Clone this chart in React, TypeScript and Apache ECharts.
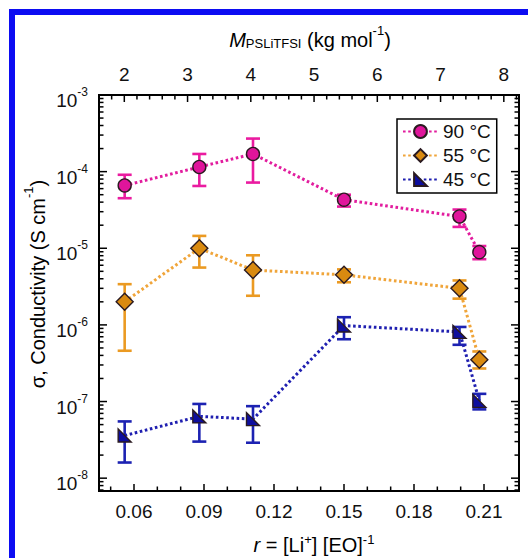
import React, { useEffect, useRef } from "react";
import * as echarts from "echarts";

// ---------- data ----------
const R_VALUES = [0.056, 0.088, 0.111, 0.15, 0.1995, 0.208];

const S90 = [6.6e-5, 1.15e-4, 1.7e-4, 4.3e-5, 2.6e-5, 8.9e-6];
const S90_HI = [9.1e-5, 1.7e-4, 2.7e-4, 5.0e-5, 3.2e-5, 1.07e-5];
const S90_LO = [4.5e-5, 6.5e-5, 7.2e-5, 3.5e-5, 1.9e-5, 7.2e-6];

const S55 = [2.0e-6, 1.0e-5, 5.2e-6, 4.5e-6, 3.0e-6, 3.5e-7];
const S55_HI = [3.4e-6, 1.45e-5, 8.1e-6, 5.3e-6, 3.8e-6, 4.5e-7];
const S55_LO = [4.6e-7, 5.6e-6, 2.4e-6, 3.6e-6, 2.2e-6, 2.7e-7];

const S45 = [3.6e-8, 6.4e-8, 5.9e-8, 9.8e-7, 8.1e-7, 1.02e-7];
const S45_HI = [5.5e-8, 9.3e-8, 8.7e-8, 1.26e-6, 9.4e-7, 1.26e-7];
const S45_LO = [1.6e-8, 3.0e-8, 2.9e-8, 6.5e-7, 5.5e-7, 7.9e-8];

const SERIES_NAMES = ["90 °C", "55 °C", "45 °C"];

// ---------- axes ----------
const X_MIN = 0.045;
const X_MAX = 0.225;
const X_MAJOR = [0.06, 0.09, 0.12, 0.15, 0.18, 0.21];
const X_MINOR = [0.05, 0.07, 0.08, 0.1, 0.11, 0.13, 0.14, 0.16, 0.17, 0.19, 0.2, 0.22];

const M_MIN = 1.6;
const M_MAX = 8.24;
const M_MAJOR = [2, 3, 4, 5, 6, 7, 8];
const M_MINOR = [
  1.8, 2.2, 2.4, 2.6, 2.8, 3.2, 3.4, 3.6, 3.8, 4.2, 4.4, 4.6, 4.8, 5.2, 5.4,
  5.6, 5.8, 6.2, 6.4, 6.6, 6.8, 7.2, 7.4, 7.6, 7.8, 8.2,
];

const Y_MIN = 6.8e-9;
const Y_MAX = 1e-3;
const Y_EXPONENTS = [-9, -8, -7, -6, -5, -4, -3];
const Y_MINOR_MULT = [2, 3, 4, 5, 6, 7, 8, 9];

const FONT = "'Liberation Sans', Arial, Helvetica, sans-serif";
const TXT = "#111";
const FRAME = "#0c0cf2";

export default function App() {
  const ref = useRef<HTMLDivElement>(null);

  useEffect(() => {
    if (!ref.current) return;
    const chart = echarts.init(ref.current, undefined, { renderer: "svg" });

    const yTicks: number[][] = [];
    Y_EXPONENTS.forEach((e) => {
      const base = Math.pow(10, e);
      if (base >= Y_MIN && base <= Y_MAX) {
        yTicks.push([X_MIN, base, 1, 0]);
        yTicks.push([X_MAX, base, 1, 1]);
      }
      Y_MINOR_MULT.forEach((m) => {
        const v = m * base;
        if (v >= Y_MIN && v < Y_MAX) {
          yTicks.push([X_MIN, v, 0, 0]);
          yTicks.push([X_MAX, v, 0, 1]);
        }
      });
    });
    const xTicks = [
      ...X_MAJOR.map((r) => [r, Y_MIN, 1]),
      ...X_MINOR.map((r) => [r, Y_MIN, 0]),
    ];
    const mTicks = [
      ...M_MAJOR.map((m) => [m, Y_MAX, 1]),
      ...M_MINOR.map((m) => [m, Y_MAX, 0]),
    ];

    const tickStyle = { stroke: "#000", lineWidth: 1.5 };

    const errSeries = (name: string, lo: number[], hi: number[], color: string) => ({
      name,
      type: "custom",
      xAxisIndex: 0,
      yAxisIndex: 0,
      z: 2,
      encode: { x: 0, y: [1, 2] },
      data: R_VALUES.map((r, i) => [r, lo[i], hi[i]]),
      renderItem: (params: any, api: any) => {
        const x = api.value(0);
        const a = api.coord([x, api.value(1)]);
        const b = api.coord([x, api.value(2)]);
        const w = 7;
        const style = { stroke: color, lineWidth: 2.6 };
        return {
          type: "group",
          children: [
            { type: "line", shape: { x1: a[0], y1: a[1], x2: b[0], y2: b[1] }, style },
            { type: "line", shape: { x1: a[0] - w, y1: a[1], x2: a[0] + w, y2: a[1] }, style },
            { type: "line", shape: { x1: b[0] - w, y1: b[1], x2: b[0] + w, y2: b[1] }, style },
          ],
        };
      },
    });

    const lineSeries = (
      name: string,
      vals: number[],
      lineColor: string,
      fill: string,
      symbol: string,
      size: number
    ) => ({
      name,
      type: "line",
      xAxisIndex: 0,
      yAxisIndex: 0,
      z: 3,
      data: R_VALUES.map((r, i) => [r, vals[i]]),
      symbol,
      symbolSize: size,
      showAllSymbol: true,
      lineStyle: { color: lineColor, width: 3, type: [2.6, 2.6] },
      itemStyle: { color: fill, borderColor: "#2a1a20", borderWidth: 1.4 },
      emphasis: { disabled: true },
    });

    const mkRich = (lh: number) => ({
      n: { fontSize: 20, fontFamily: FONT, color: TXT, lineHeight: lh, verticalAlign: "bottom" },
      i: { fontSize: 20, fontFamily: FONT, color: TXT, fontStyle: "italic", lineHeight: lh, verticalAlign: "bottom" },
      sup: { fontSize: 13, fontFamily: FONT, color: TXT, lineHeight: 13, verticalAlign: "top" },
      sub: { fontSize: 13, fontFamily: FONT, color: TXT, lineHeight: 13, verticalAlign: "bottom" },
    });

    const option: any = {
      animation: false,
      backgroundColor: "transparent",
      textStyle: { fontFamily: FONT },
      grid: {
        left: 99,
        top: 95,
        width: 420,
        height: 396,
        show: true,
        borderColor: "#000",
        borderWidth: 2,
        backgroundColor: "transparent",
      },
      legend: {
        data: SERIES_NAMES,
        orient: "vertical",
        left: 397,
        top: 119,
        padding: [3, 6, 4, 5],
        itemGap: 5,
        itemWidth: 35,
        itemHeight: 16,
        backgroundColor: "#fff",
        borderColor: "#000",
        borderWidth: 1.5,
        borderRadius: 0,
        selectedMode: false,
        textStyle: { fontSize: 19, fontFamily: FONT, color: TXT },
      },
      xAxis: [
        {
          type: "value",
          position: "bottom",
          min: X_MIN,
          max: X_MAX,
          interval: 0.005,
          axisLine: { show: false },
          axisTick: { show: false },
          splitLine: { show: false },
          axisLabel: {
            margin: 11,
            fontSize: 19,
            fontFamily: FONT,
            color: TXT,
            formatter: (v: number) => {
              const ok = X_MAJOR.some((m) => Math.abs(m - v) < 1e-7);
              return ok ? v.toFixed(2) : "";
            },
          },
        },
        {
          type: "value",
          position: "top",
          min: M_MIN,
          max: M_MAX,
          interval: 0.2,
          axisLine: { show: false },
          axisTick: { show: false },
          splitLine: { show: false },
          axisLabel: {
            margin: 11,
            fontSize: 19,
            fontFamily: FONT,
            color: TXT,
            formatter: (v: number) => {
              const ok = M_MAJOR.some((m) => Math.abs(m - v) < 1e-7);
              return ok ? String(Math.round(v)) : "";
            },
          },
        },
      ],
      yAxis: [
        {
          type: "log",
          logBase: 10,
          min: Y_MIN,
          max: Y_MAX,
          axisLine: { show: false },
          axisTick: { show: false },
          splitLine: { show: false },
          minorTick: { show: false },
          axisLabel: {
            margin: 11,
            padding: [6, 0, 0, 0],
            formatter: (v: number) => {
              const e = Math.log10(v);
              const r = Math.round(e);
              if (Math.abs(e - r) > 1e-6) return "";
              return `{b|10}{s|${r}}`;
            },
            rich: {
              b: { fontSize: 19, fontFamily: FONT, color: TXT, lineHeight: 24, verticalAlign: "bottom" },
              s: { fontSize: 12, fontFamily: FONT, color: TXT, lineHeight: 12, verticalAlign: "top" },
            },
          },
        },
      ],
      graphic: [
        {
          type: "text",
          x: 310,
          y: 37,
          style: {
            text: "{i|M}{sub|PSLiTFSI}{n| (kg mol}{sup|-1}{n|)}",
            align: "center",
            verticalAlign: "middle",
            rich: mkRich(26),
          },
        },
        {
          type: "text",
          x: 314,
          y: 544,
          style: {
            text: "{i|r}{n| = [Li}{sup|+}{n|] [EO]}{sup|-1}",
            align: "center",
            verticalAlign: "middle",
            rich: mkRich(22),
          },
        },
        {
          type: "text",
          x: 35,
          y: 284,
          rotation: Math.PI / 2,
          style: {
            text: "{n|σ, Conductivity (S cm}{sup|-1}{n|)}",
            align: "center",
            verticalAlign: "middle",
            rich: mkRich(26),
          },
        },
      ],
      series: [
        errSeries("err90", S90_LO, S90_HI, "#ea1ba0"),
        errSeries("err55", S55_LO, S55_HI, "#eb9a22"),
        errSeries("err45", S45_LO, S45_HI, "#1c22b2"),
        lineSeries(SERIES_NAMES[0], S90, "#e21d9e", "#e0159b", "circle", 13),
        lineSeries(SERIES_NAMES[1], S55, "#f0a53a", "#d98a10", "diamond", 17),
        lineSeries(SERIES_NAMES[2], S45, "#1f1fb0", "#0e0e9e", "path://M0,0 L0,10 L10,10 Z", 13),
        {
          name: "yticks",
          type: "custom",
          xAxisIndex: 0,
          yAxisIndex: 0,
          z: 5,
          silent: true,
          encode: { x: 0, y: 1 },
          data: yTicks,
          renderItem: (params: any, api: any) => {
            const p = api.coord([api.value(0), api.value(1)]);
            const len = api.value(2) === 1 ? 8 : 4.5;
            const dir = api.value(3) === 1 ? -1 : 1;
            return {
              type: "line",
              shape: { x1: p[0], y1: p[1], x2: p[0] + dir * len, y2: p[1] },
              style: tickStyle,
            };
          },
        },
        {
          name: "xticks",
          type: "custom",
          xAxisIndex: 0,
          yAxisIndex: 0,
          z: 5,
          silent: true,
          encode: { x: 0, y: 1 },
          data: xTicks,
          renderItem: (params: any, api: any) => {
            const p = api.coord([api.value(0), api.value(1)]);
            const len = api.value(2) === 1 ? 7 : 4.5;
            return {
              type: "line",
              shape: { x1: p[0], y1: p[1], x2: p[0], y2: p[1] - len },
              style: tickStyle,
            };
          },
        },
        {
          name: "mticks",
          type: "custom",
          xAxisIndex: 1,
          yAxisIndex: 0,
          z: 5,
          silent: true,
          encode: { x: 0, y: 1 },
          data: mTicks,
          renderItem: (params: any, api: any) => {
            const p = api.coord([api.value(0), api.value(1)]);
            const len = api.value(2) === 1 ? 7 : 4.5;
            return {
              type: "line",
              shape: { x1: p[0], y1: p[1], x2: p[0], y2: p[1] + len },
              style: tickStyle,
            };
          },
        },
      ],
    };

    chart.setOption(option);
    return () => chart.dispose();
  }, []);

  return (
    <div
      style={{
        position: "fixed",
        left: 0,
        top: 0,
        width: 528,
        height: 558,
        background: "#fff",
        overflow: "hidden",
      }}
    >
      <div
        style={{ position: "absolute", left: 9, top: 9, width: 519, height: 6, background: FRAME }}
      />
      <div
        style={{ position: "absolute", left: 9, top: 9, width: 6, height: 549, background: FRAME }}
      />
      <div
        ref={ref}
        style={{ position: "absolute", left: 0, top: 0, width: 528, height: 558 }}
      />
    </div>
  );
}
